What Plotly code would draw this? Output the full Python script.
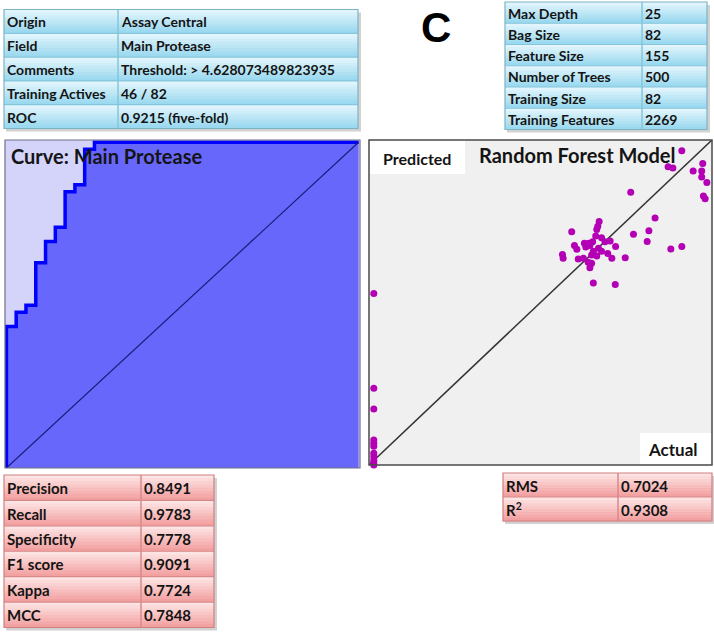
import plotly.graph_objects as go

W, H = 714, 634

# ---------------- data ----------------
info_labels = ["Origin", "Field", "Comments", "Training Actives", "ROC"]
info_values = ["Assay Central", "Main Protease", "Threshold: > 4.628073489823935",
               "46 / 82", "0.9215 (five-fold)"]

param_labels = ["Max Depth", "Bag Size", "Feature Size", "Number of Trees",
                "Training Size", "Training Features"]
param_values = ["25", "82", "155", "500", "82", "2269"]

metric_labels = ["Precision", "Recall", "Specificity", "F1 score", "Kappa", "MCC"]
metric_values = ["0.8491", "0.9783", "0.7778", "0.9091", "0.7724", "0.7848"]

reg_labels = ["RMS", "R<sup>2</sup>"]
reg_values = ["0.7024", "0.9308"]

# ROC curve: cumulative false-positive / true-positive counts
n_inactive = 36
n_active = 46
roc_fp_counts = [0, 0, 1, 2, 3, 4, 5, 6, 7, 8, 9, 36]
roc_tp_counts = [0, 20, 22, 23, 29, 32, 34, 39, 40, 45, 46, 46]

# Random forest regression: actual vs predicted (scaled 0-1)
actual = [0.912, 0.872, 0.886, 0.945, 0.970, 0.973, 0.970, 0.985, 0.975, 0.980,
          0.763, 0.834, 0.816, 0.771, 0.811, 0.912, 0.880, 0.747, 0.718, 0.654,
          0.671, 0.667, 0.664, 0.591, 0.661, 0.678, 0.652, 0.641, 0.628, 0.703,
          0.688, 0.599, 0.606, 0.632, 0.644, 0.719, 0.669, 0.654, 0.678, 0.696,
          0.649, 0.664, 0.564, 0.566, 0.610, 0.625, 0.708, 0.639, 0.649, 0.644,
          0.014, 0.014, 0.014, 0.014, 0.014, 0.014, 0.014, 0.014, 0.014, 0.014,
          0.014]
predicted = [0.967, 0.918, 0.914, 0.905, 0.905, 0.928, 0.886, 0.869, 0.828, 0.819,
             0.839, 0.760, 0.721, 0.710, 0.688, 0.672, 0.665, 0.638, 0.555, 0.560,
             0.749, 0.735, 0.725, 0.718, 0.705, 0.699, 0.687, 0.682, 0.682, 0.689,
             0.687, 0.675, 0.664, 0.671, 0.675, 0.672, 0.667, 0.658, 0.658, 0.651,
             0.646, 0.643, 0.648, 0.636, 0.634, 0.636, 0.636, 0.624, 0.621, 0.607,
             0.528, 0.236, 0.172, 0.077, 0.067, 0.058, 0.036, 0.026, 0.015, 0.007,
             0.000]

# ---------------- helpers ----------------
def X(px):
    return px / W


def Y(py):
    return 1 - py / H


def mix(c1, c2, t):
    a = [int(c1[i:i + 2], 16) for i in (1, 3, 5)]
    b = [int(c2[i:i + 2], 16) for i in (1, 3, 5)]
    return "rgb(%d,%d,%d)" % tuple(round(a[k] + (b[k] - a[k]) * t) for k in range(3))


shapes = []
annotations = []
FONT = "Lato"
TXT = "#141414"


def rect(x0, y0, x1, y1, fill, line=None, lw=0, layer="below"):
    d = dict(type="rect", xref="paper", yref="paper",
             x0=X(x0), x1=X(x1), y0=Y(y1), y1=Y(y0),
             fillcolor=fill, layer=layer)
    if line:
        d["line"] = dict(color=line, width=lw)
    else:
        d["line"] = dict(width=0)
    shapes.append(d)


def hline(x0, x1, y, color, lw=1):
    shapes.append(dict(type="line", xref="paper", yref="paper", x0=X(x0), x1=X(x1),
                       y0=Y(y), y1=Y(y), line=dict(color=color, width=lw)))


def vline(x, y0, y1, color, lw=1):
    shapes.append(dict(type="line", xref="paper", yref="paper", x0=X(x), x1=X(x),
                       y0=Y(y0), y1=Y(y1), line=dict(color=color, width=lw)))


def text(px, py, s, size=14, anchor="left", color=TXT, family=FONT):
    annotations.append(dict(xref="paper", yref="paper", x=X(px), y=Y(py),
                            text=s, showarrow=False, xanchor=anchor, yanchor="middle",
                            font=dict(family=family, size=size, color=color)))


def table(x0, xs, x1, y0, y1, labels, values, ctop, cbot, inner, outer, size=14):
    n = len(labels)
    rh = (y1 - y0) / n
    rect(x0 + 2, y0 + 3, x1 + 3, y1 + 3, "rgba(0,0,0,0.18)")
    nb = 8
    for i in range(n):
        ry = y0 + i * rh
        for b in range(nb):
            t = b / (nb - 1)
            rect(x0, ry + b * rh / nb, x1, ry + (b + 1) * rh / nb + 0.6, mix(ctop, cbot, t))
        cy = ry + rh / 2 + 0.5
        text(x0 + 1, cy, "<b>%s</b>" % labels[i], size)
        text(xs + 0.5, cy, "<b>%s</b>" % values[i], size)
        if i > 0:
            hline(x0, x1, ry, inner, 1.2)
    vline(xs, y0, y1, inner, 1.5)
    rect(x0, y0, x1, y1, "rgba(0,0,0,0)", outer, 1.2, layer="above")


# ---------------- tables ----------------
table(4, 118, 358, 9.5, 128.5, info_labels, info_values,
      "#e2f5fc", "#9ad9ef", "#86c6da", "#7db4c4")
table(505, 642, 707, 2, 129.5, param_labels, param_values,
      "#e2f5fc", "#9ad9ef", "#86c6da", "#7db4c4")
table(4, 141, 214, 475, 627.5, metric_labels, metric_values,
      "#fde4e4", "#f3a0a0", "#d88a8a", "#d08080", size=15)
table(503, 618, 712, 473, 521, reg_labels, reg_values,
      "#fde4e4", "#f3a0a0", "#d88a8a", "#d08080", size=15)

# "C" label
text(436, 28, "<b>C</b>", size=42, anchor="center", color="#000000", family="Liberation Sans")

# ---------------- ROC panel ----------------
ROC = dict(x0=5, x1=360, y0=140, y1=468)
rect(ROC["x0"], ROC["y0"], ROC["x1"], ROC["y1"], "#d4d4fb")

fpr = [c / n_inactive for c in roc_fp_counts]
tpr = [c / n_active for c in roc_tp_counts]

# ---------------- scatter panel ----------------
SC = dict(x0=369, x1=712, y0=140, y1=465)
rect(SC["x0"], SC["y0"], SC["x1"], SC["y1"], "#f0f0f0")

fig = go.Figure()
fig.add_trace(go.Scatter(x=fpr, y=tpr, mode="lines", xaxis="x", yaxis="y",
                         line=dict(color="#0000ff", width=3.5, shape="hv"),
                         fill="tozeroy", fillcolor="#6767fc", hoverinfo="skip",
                         showlegend=False))
fig.add_trace(go.Scatter(x=[0, 1], y=[0, 1], mode="lines", xaxis="x", yaxis="y",
                         line=dict(color="#1c1c7a", width=1.2), hoverinfo="skip",
                         showlegend=False))

fig.add_trace(go.Scatter(x=[0, 1], y=[0, 1], mode="lines", xaxis="x2", yaxis="y2",
                         line=dict(color="#333333", width=1.5), hoverinfo="skip",
                         showlegend=False))
fig.add_trace(go.Scatter(x=actual, y=predicted, mode="markers", xaxis="x2", yaxis="y2",
                         marker=dict(color="#b400b4", size=7, line=dict(width=0)),
                         cliponaxis=False, showlegend=False))

# white label boxes over scatter
rect(369, 140, 465, 174, "#ffffff", layer="above")
rect(640, 433, 712, 465, "#ffffff", layer="above")
rect(SC["x0"], SC["y0"], SC["x1"], SC["y1"], "rgba(0,0,0,0)", "#4a4a4a", 1.5, layer="above")
rect(ROC["x0"], ROC["y0"], ROC["x1"], ROC["y1"], "rgba(0,0,0,0)", "#6e6e8a", 1.2, layer="above")

text(9, 156, "<b>Curve: Main Protease</b>", size=20)
text(417, 158, "<b>Predicted</b>", size=16, anchor="center")
text(577, 155, "<b>Random Forest Model</b>", size=20, anchor="center")
text(673, 449, "<b>Actual</b>", size=17, anchor="center")

ax_common = dict(visible=False, fixedrange=True, showgrid=False, zeroline=False)
fig.update_layout(
    width=W, height=H,
    margin=dict(l=0, r=0, t=0, b=0),
    paper_bgcolor="#ffffff",
    plot_bgcolor="rgba(0,0,0,0)",
    xaxis=dict(domain=[X(ROC["x0"]), X(ROC["x1"])], range=[-0.004, 1.004], **ax_common),
    yaxis=dict(domain=[Y(ROC["y1"]), Y(ROC["y0"])], range=[0, 1.007], **ax_common),
    xaxis2=dict(domain=[X(SC["x0"]), X(SC["x1"])], range=[0, 1], anchor="y2", **ax_common),
    yaxis2=dict(domain=[Y(SC["y1"]), Y(SC["y0"])], range=[0, 1], anchor="x2", **ax_common),
    shapes=shapes,
    annotations=annotations,
    showlegend=False,
)

fig.write_html("out.html", config={"displayModeBar": False},
               post_script="document.body.style.margin='0';document.body.style.overflow='hidden';")
